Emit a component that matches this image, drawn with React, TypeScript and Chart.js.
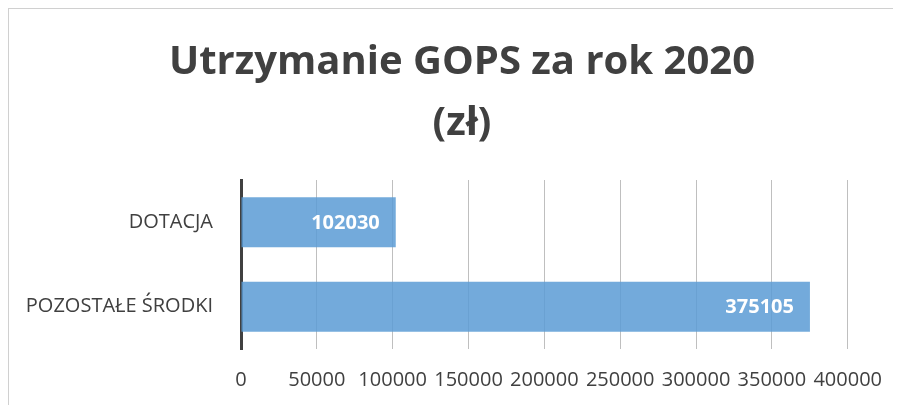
import React, { useEffect, useRef } from "react";
import { Chart, registerables } from "chart.js";

Chart.register(...registerables);

const categories = ["DOTACJA", "POZOSTAŁE ŚRODKI"];
const values = [102030, 375105];
const titleLines = ["Utrzymanie GOPS za rok 2020", "(zł)"];
const xMin = 0;
const xMax = 400000;
const xStep = 50000;

const FONT = "'Open Sans', 'Noto Sans', sans-serif";
const TEXT = "#404040";

const valueLabels = {
  id: "valueLabels",
  afterDatasetsDraw(chart: any) {
    const ctx = chart.ctx;
    const meta = chart.getDatasetMeta(0);
    ctx.save();
    ctx.font = `bold 20px ${FONT}`;
    ctx.fillStyle = "#ffffff";
    ctx.textAlign = "right";
    ctx.textBaseline = "middle";
    meta.data.forEach((bar: any, i: number) => {
      ctx.fillText(String(values[i]), bar.x - 16, bar.y + 1);
    });
    ctx.restore();
  },
};

const titlePlugin = {
  id: "bigTitle",
  afterDraw(chart: any) {
    const ctx = chart.ctx;
    ctx.save();
    ctx.font = `bold 40px ${FONT}`;
    ctx.fillStyle = TEXT;
    ctx.textAlign = "center";
    ctx.textBaseline = "middle";
    const cx = chart.width / 2 + 7;
    titleLines.forEach((line, i) => {
      ctx.fillText(line, cx, 54 + i * 61);
    });
    ctx.restore();
  },
};

export default function App() {
  const ref = useRef<HTMLCanvasElement | null>(null);
  useEffect(() => {
    if (!ref.current) return;
    const chart = new Chart(ref.current, {
      type: "bar",
      data: {
        labels: categories,
        datasets: [
          {
            data: values,
            backgroundColor: "rgba(91,155,213,0.85)",
            borderWidth: 0,
            barPercentage: 0.59,
            categoryPercentage: 1,
          },
        ],
      },
      plugins: [valueLabels, titlePlugin],
      options: {
        indexAxis: "y",
        animation: false,
        responsive: false,
        maintainAspectRatio: false,
        layout: { padding: { left: 0, right: 46, top: 171, bottom: 0 } },
        plugins: {
          legend: { display: false },
          tooltip: { enabled: false },
          title: { display: false },
        },
        scales: {
          x: {
            min: xMin,
            max: xMax,
            ticks: {
              stepSize: xStep,
              color: TEXT,
              font: { family: FONT, size: 20 },
              padding: 19,
              maxRotation: 0,
              autoSkip: false,
              callback: (v: any) => String(v),
            },
            grid: { color: "#bfbfbf", drawTicks: false, lineWidth: 1 },
            border: { display: false },
            afterFit(scale: any) {
              scale.height = 56;
            },
          },
          y: {
            ticks: {
              color: TEXT,
              font: { family: FONT, size: 20 },
              padding: 28,
            },
            grid: { display: false, drawTicks: false },
            border: { display: true, color: "#404040", width: 3 },
            afterFit(scale: any) {
              scale.width = 232;
            },
          },
        },
      },
    });
    return () => chart.destroy();
  }, []);
  return (
    <div
      style={{
        borderLeft: "1px solid #d0d0d0",
        borderTop: "1px solid #d0d0d0",
        width: 892,
        height: 396,
        overflow: "hidden",
      }}
    >
      <canvas ref={ref} width={892} height={396} style={{ display: "block" }} />
    </div>
  );
}
